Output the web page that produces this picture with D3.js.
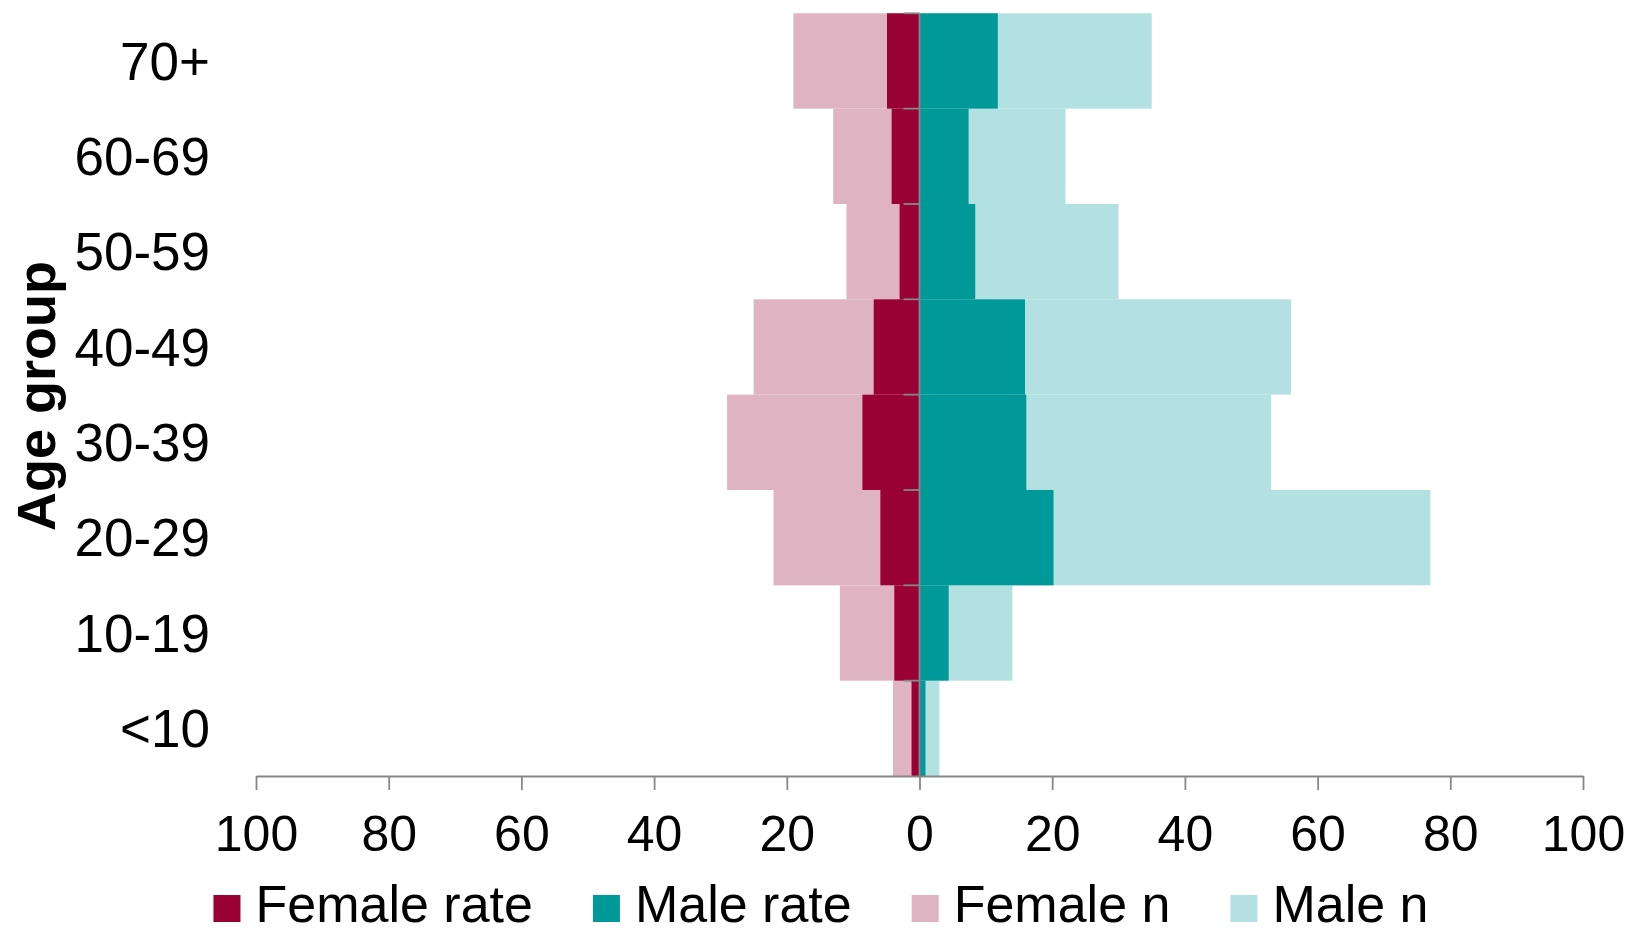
<!DOCTYPE html>
<html>
<head>
<meta charset="utf-8">
<script src="https://cdn.jsdelivr.net/npm/d3@7"></script>
<style>
  html, body { margin: 0; padding: 0; background: #fff; }
  svg { display: block; font-family: "Liberation Sans", Arial, sans-serif; }
</style>
</head>
<body>
<svg id="chart" width="1628" height="934"></svg>
<script>
// ---- data ----
const categories = ["<10", "10-19", "20-29", "30-39", "40-49", "50-59", "60-69", "70+"];
const femaleRate = [1.2, 3.8, 5.9, 8.6, 6.9, 3.0, 4.2, 4.9];
const maleRate   = [0.9, 4.4, 20.2, 16.1, 15.9, 8.4, 7.4, 11.8];
const femaleN    = [4, 12, 22, 29, 25, 11, 13, 19];
const maleN      = [3, 14, 77, 53, 56, 30, 22, 35];
const xTicks     = [-100, -80, -60, -40, -20, 0, 20, 40, 60, 80, 100];
const seriesNames = ["Female rate", "Male rate", "Female n", "Male n"];
const seriesColors = ["#990033", "#009999", "#dfb3c1", "#b3e0e0"];

// ---- layout ----
const svg = d3.select("#chart");
const plot = { left: 256, right: 1583, top: 13.3, bottom: 776 };

const x = d3.scaleLinear().domain([-100, 100]).range([plot.left, plot.right]);
const y = d3.scaleBand().domain(categories.slice().reverse()).range([plot.top, plot.bottom]).padding(0);

const rows = categories.map((c, i) => ({
  cat: c, fr: femaleRate[i], mr: maleRate[i], fn: femaleN[i], mn: maleN[i]
}));

// background count bars
const g = svg.append("g");
g.selectAll("rect.fn").data(rows).join("rect")
  .attr("x", d => x(-d.fn)).attr("width", d => x(0) - x(-d.fn))
  .attr("y", d => y(d.cat)).attr("height", y.bandwidth())
  .attr("fill", seriesColors[2]);
g.selectAll("rect.mn").data(rows).join("rect")
  .attr("x", x(0)).attr("width", d => x(d.mn) - x(0))
  .attr("y", d => y(d.cat)).attr("height", y.bandwidth())
  .attr("fill", seriesColors[3]);
// rate bars
g.selectAll("rect.fr").data(rows).join("rect")
  .attr("x", d => x(-d.fr)).attr("width", d => x(0) - x(-d.fr))
  .attr("y", d => y(d.cat)).attr("height", y.bandwidth())
  .attr("fill", seriesColors[0]);
g.selectAll("rect.mr").data(rows).join("rect")
  .attr("x", x(0)).attr("width", d => x(d.mr) - x(0))
  .attr("y", d => y(d.cat)).attr("height", y.bandwidth())
  .attr("fill", seriesColors[1]);

const axisColor = "#878787";

// vertical category axis at zero with ticks at band boundaries
const vAxis = svg.append("g");
vAxis.append("line")
  .attr("x1", x(0)).attr("x2", x(0))
  .attr("y1", plot.top).attr("y2", plot.bottom)
  .attr("stroke", axisColor).attr("stroke-width", 1.8);
const boundaries = categories.map(c => y(c));
vAxis.selectAll("line.t").data(boundaries).join("line")
  .attr("x1", x(0) - 16).attr("x2", x(0))
  .attr("y1", d => d).attr("y2", d => d)
  .attr("stroke", axisColor).attr("stroke-width", 1.8);

// category labels (low position, left of plot)
svg.append("g").selectAll("text").data(categories).join("text")
  .attr("x", 210)
  .attr("y", d => y(d) + y.bandwidth() / 2)
  .attr("dy", "0.35em")
  .attr("text-anchor", "end")
  .attr("font-size", 53)
  .attr("fill", "#000")
  .text(d => d);

// axis title
svg.append("text")
  .attr("transform", `translate(55,396) rotate(-90)`)
  .attr("text-anchor", "middle")
  .attr("font-size", 54)
  .attr("font-weight", "bold")
  .attr("fill", "#000")
  .text("Age group");

// x axis
const xAxis = d3.axisBottom(x).tickValues(xTicks).tickSize(14).tickSizeOuter(0)
  .tickFormat(d => Math.abs(d));
const xg = svg.append("g").attr("transform", `translate(0,${plot.bottom})`).call(xAxis);
xg.select(".domain").attr("stroke", axisColor).attr("stroke-width", 2.2);
xg.selectAll(".tick line").attr("stroke", axisColor).attr("stroke-width", 1.8);
xg.selectAll(".tick text")
  .attr("font-family", "Liberation Sans, Arial, sans-serif")
  .attr("font-size", 50).attr("fill", "#000")
  .attr("y", 39).attr("dy", "0.71em");

// legend
const leg = svg.append("g");
const items = leg.selectAll("g").data(seriesNames).join("g");
items.append("rect").attr("width", 27).attr("height", 27).attr("y", 895)
  .attr("fill", (d, i) => seriesColors[i]);
items.append("text").attr("y", 922).attr("font-size", 52).attr("fill", "#000")
  .text(d => d);
const widths = [];
items.select("text").each(function () { widths.push(this.getComputedTextLength()); });
const sqW = 27, gapT = 15, gapI = 60;
const total = d3.sum(widths) + seriesNames.length * (sqW + gapT) + (seriesNames.length - 1) * gapI;
let cx = 821 - total / 2;
items.each(function (d, i) {
  const it = d3.select(this);
  it.select("rect").attr("x", cx);
  it.select("text").attr("x", cx + sqW + gapT);
  cx += sqW + gapT + widths[i] + gapI;
});
</script>
</body>
</html>
